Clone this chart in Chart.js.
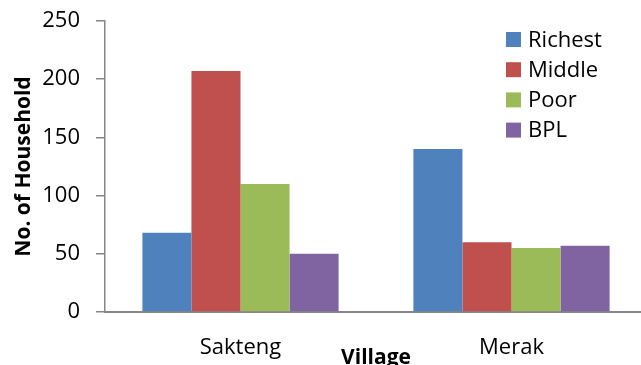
<!DOCTYPE html>
<html>
<head>
<meta charset="utf-8">
<script src="https://cdn.jsdelivr.net/npm/chart.js@4"></script>
<style>
  html, body { margin: 0; padding: 0; background: #fff; overflow: hidden; }
  #wrap { width: 647px; height: 365px; }
</style>
</head>
<body>
<div id="wrap"><canvas id="householdChart"></canvas></div>
<script>
// Haushalte je Dorf nach Wohlstandsgruppe
const villages = ['Sakteng', 'Merak'];
const groups = ['Richest', 'Middle', 'Poor', 'BPL'];
const richest = [68, 140];
const middle = [207, 60];
const poor = [110, 55];
const bpl = [50, 57];
const yTicks = [0, 50, 100, 150, 200, 250];

const colours = ['#4F81BD', '#C0504D', '#9BBB59', '#8064A2'];
const axisGrey = '#868686';
const fontName = "'Open Sans', sans-serif";

// Legende oben rechts innerhalb der Zeichenfläche
const innerLegend = {
    id: 'innerLegend',
    afterDraw(chart) {
        const ctx = chart.ctx;
        ctx.save();
        ctx.font = '22px ' + fontName;
        ctx.textBaseline = 'middle';
        ctx.fillStyle = '#000';
        chart.data.datasets.forEach((ds, i) => {
            const y = 39.5 + i * 30.2;
            ctx.fillStyle = ds.backgroundColor;
            ctx.fillRect(506, y - 7.5, 15, 15);
            ctx.fillStyle = '#000';
            ctx.fillText(ds.label, 528, y + 1);
        });
        ctx.restore();
    }
};

const seriesValues = [richest, middle, poor, bpl];

const data = {
    labels: villages,
    datasets: groups.map((g, i) => ({
        label: g,
        data: seriesValues[i],
        backgroundColor: colours[i],
        borderWidth: 0,
        categoryPercentage: 0.724,
        barPercentage: 1.0
    }))
};

const config = {
    type: 'bar',
    data: data,
    options: {
        responsive: true,
        maintainAspectRatio: false,
        animation: false,
        layout: { padding: { top: 21, right: 0, bottom: 0, left: 0 } },
        plugins: {
            legend: { display: false },
            tooltip: { enabled: false }
        },
        scales: {
            x: {
                grid: { display: false, drawTicks: false },
                border: { display: true, color: axisGrey, width: 2 },
                ticks: { color: '#000', font: { family: fontName, size: 22 }, padding: 23 },
                title: {
                    display: true, text: 'Village', color: '#000',
                    font: { family: fontName, size: 21, weight: 'bold' },
                    padding: { top: 0, bottom: -6 }
                },
                afterFit(scale) { scale.height = 53; }
            },
            y: {
                min: 0, max: 250,
                afterBuildTicks(scale) { scale.ticks = yTicks.map(v => ({ value: v })); },
                grid: { drawOnChartArea: false, drawTicks: true, tickLength: 9, color: axisGrey, lineWidth: 1.5 },
                border: { display: true, color: axisGrey, width: 1.5 },
                ticks: { color: '#000', font: { family: fontName, size: 22 }, padding: 16 },
                title: {
                    display: true, text: 'No. of Household', color: '#000',
                    font: { family: fontName, size: 21, weight: 'bold' },
                    padding: { top: 11, bottom: 0 }
                },
                afterFit(scale) {
                    scale.width = 105;
                    scale.paddingTop = 0;
                    scale.paddingBottom = 0;
                }
            }
        }
    },
    plugins: [innerLegend]
};

const householdChart = new Chart(document.getElementById('householdChart'), config);
</script>
</body>
</html>
